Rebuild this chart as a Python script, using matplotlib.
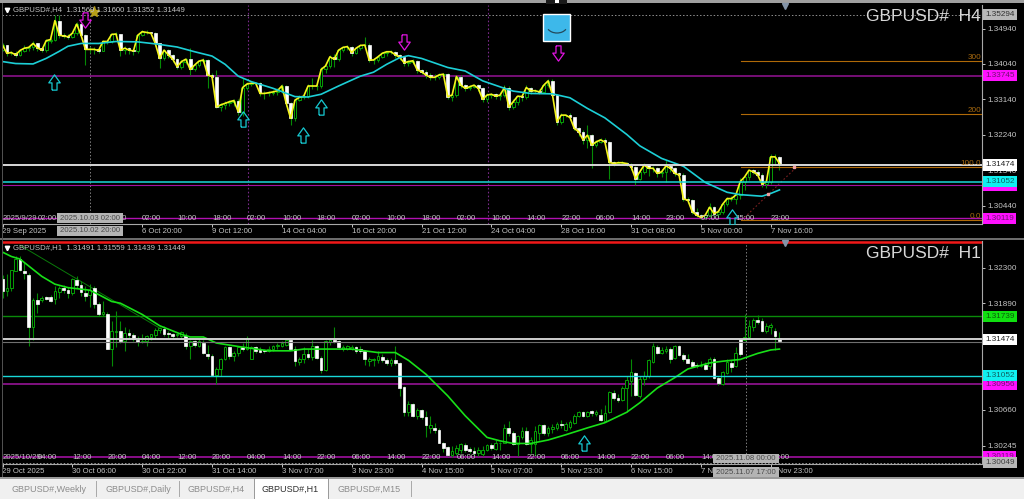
import matplotlib
matplotlib.use("Agg")
import matplotlib.pyplot as plt
from matplotlib.patches import Rectangle, Arc
from matplotlib.path import Path

plt.rcParams["font.family"] = ["Liberation Sans", "DejaVu Sans"]

# ---- H4 panel ----
h4_close = [
    1.3452, 1.3431, 1.3433, 1.3427, 1.3438, 1.3444, 1.3446, 1.3456, 1.3445, 1.3439,
    1.3463, 1.3466, 1.3514, 1.3477, 1.3475, 1.3473, 1.3482, 1.3505, 1.3477, 1.3441,
    1.3441, 1.3441, 1.3438, 1.3461, 1.3461, 1.3479, 1.3480, 1.3439, 1.3444, 1.3439,
    1.3437, 1.3477, 1.3486, 1.3484, 1.3482, 1.3456, 1.3418, 1.3439, 1.3427, 1.3416,
    1.3397, 1.3410, 1.3416, 1.3390, 1.3401, 1.3411, 1.3414, 1.3376, 1.3372, 1.3295,
    1.3300, 1.3304, 1.3308, 1.3311, 1.3283, 1.3344, 1.3353, 1.3355, 1.3355, 1.3329,
    1.3329, 1.3331, 1.3333, 1.3336, 1.3348, 1.3304, 1.3266, 1.3312, 1.3319, 1.3322,
    1.3348, 1.3348, 1.3348, 1.3390, 1.3399, 1.3422, 1.3416, 1.3439, 1.3446, 1.3448,
    1.3433, 1.3444, 1.3451, 1.3452, 1.3414, 1.3414, 1.3422, 1.3431, 1.3435, 1.3435,
    1.3427, 1.3421, 1.3407, 1.3410, 1.3412, 1.3389, 1.3384, 1.3376, 1.3370, 1.3370,
    1.3376, 1.3378, 1.3321, 1.3325, 1.3372, 1.3350, 1.3342, 1.3346, 1.3350, 1.3342,
    1.3314, 1.3325, 1.3327, 1.3322, 1.3325, 1.3344, 1.3295, 1.3308, 1.3322, 1.3321,
    1.3344, 1.3336, 1.3336, 1.3333, 1.3350, 1.3361, 1.3325, 1.3257, 1.3274, 1.3274,
    1.3268, 1.3240, 1.3232, 1.3211, 1.3223, 1.3198, 1.3206, 1.3211, 1.3206, 1.3154,
    1.3151, 1.3153, 1.3153, 1.3151, 1.3143, 1.3113, 1.3130, 1.3147, 1.3139, 1.3139,
    1.3126, 1.3130, 1.3145, 1.3139, 1.3126, 1.3122, 1.3061, 1.3058, 1.3029, 1.3020,
    1.3014, 1.3020, 1.3040, 1.3024, 1.3029, 1.3048, 1.3062, 1.3062, 1.3071, 1.3105,
    1.3117, 1.3134, 1.3130, 1.3122, 1.3099, 1.3105, 1.3168, 1.3168, 1.3151,
]
h4_open = [
    1.3440, 1.3452, 1.3431, 1.3433, 1.3427, 1.3438, 1.3444, 1.3446, 1.3456, 1.3445,
    1.3439, 1.3463, 1.3466, 1.3514, 1.3477, 1.3475, 1.3473, 1.3482, 1.3505, 1.3477,
    1.3441, 1.3441, 1.3441, 1.3438, 1.3461, 1.3461, 1.3479, 1.3480, 1.3439, 1.3444,
    1.3439, 1.3437, 1.3477, 1.3486, 1.3484, 1.3482, 1.3456, 1.3418, 1.3439, 1.3427,
    1.3416, 1.3397, 1.3410, 1.3416, 1.3390, 1.3401, 1.3411, 1.3414, 1.3376, 1.3372,
    1.3295, 1.3300, 1.3304, 1.3308, 1.3311, 1.3283, 1.3344, 1.3353, 1.3355, 1.3355,
    1.3329, 1.3329, 1.3331, 1.3333, 1.3336, 1.3348, 1.3304, 1.3266, 1.3312, 1.3319,
    1.3322, 1.3348, 1.3348, 1.3348, 1.3390, 1.3399, 1.3422, 1.3416, 1.3439, 1.3446,
    1.3448, 1.3433, 1.3444, 1.3451, 1.3452, 1.3414, 1.3414, 1.3422, 1.3431, 1.3435,
    1.3435, 1.3427, 1.3421, 1.3407, 1.3410, 1.3412, 1.3389, 1.3384, 1.3376, 1.3370,
    1.3370, 1.3376, 1.3378, 1.3321, 1.3325, 1.3372, 1.3350, 1.3342, 1.3346, 1.3350,
    1.3342, 1.3314, 1.3325, 1.3327, 1.3322, 1.3325, 1.3344, 1.3295, 1.3308, 1.3322,
    1.3321, 1.3344, 1.3336, 1.3336, 1.3333, 1.3350, 1.3361, 1.3325, 1.3257, 1.3274,
    1.3274, 1.3268, 1.3240, 1.3232, 1.3211, 1.3223, 1.3198, 1.3206, 1.3211, 1.3206,
    1.3154, 1.3151, 1.3153, 1.3153, 1.3151, 1.3143, 1.3113, 1.3130, 1.3147, 1.3139,
    1.3139, 1.3126, 1.3130, 1.3145, 1.3139, 1.3126, 1.3122, 1.3061, 1.3058, 1.3029,
    1.3020, 1.3014, 1.3020, 1.3040, 1.3024, 1.3029, 1.3048, 1.3062, 1.3062, 1.3071,
    1.3105, 1.3117, 1.3134, 1.3130, 1.3122, 1.3099, 1.3105, 1.3168, 1.3168,
]
h4_high = [
    1.3458, 1.3453, 1.3437, 1.3436, 1.3442, 1.3452, 1.3450, 1.3462, 1.3458, 1.3447,
    1.3468, 1.3470, 1.3528, 1.3528, 1.3482, 1.3479, 1.3486, 1.3510, 1.3512, 1.3479,
    1.3446, 1.3446, 1.3444, 1.3465, 1.3466, 1.3482, 1.3484, 1.3481, 1.3450, 1.3448,
    1.3441, 1.3480, 1.3490, 1.3490, 1.3486, 1.3484, 1.3457, 1.3443, 1.3442, 1.3428,
    1.3420, 1.3414, 1.3420, 1.3444, 1.3404, 1.3415, 1.3418, 1.3416, 1.3380, 1.3389,
    1.3305, 1.3310, 1.3312, 1.3316, 1.3314, 1.3369, 1.3357, 1.3359, 1.3358, 1.3358,
    1.3335, 1.3336, 1.3337, 1.3342, 1.3352, 1.3350, 1.3308, 1.3316, 1.3326, 1.3328,
    1.3352, 1.3368, 1.3352, 1.3395, 1.3404, 1.3426, 1.3428, 1.3442, 1.3450, 1.3452,
    1.3450, 1.3448, 1.3455, 1.3473, 1.3456, 1.3419, 1.3426, 1.3435, 1.3438, 1.3440,
    1.3438, 1.3430, 1.3425, 1.3414, 1.3417, 1.3414, 1.3392, 1.3389, 1.3380, 1.3378,
    1.3380, 1.3381, 1.3380, 1.3328, 1.3376, 1.3375, 1.3354, 1.3350, 1.3354, 1.3352,
    1.3345, 1.3329, 1.3330, 1.3330, 1.3332, 1.3350, 1.3348, 1.3314, 1.3326, 1.3326,
    1.3350, 1.3345, 1.3340, 1.3340, 1.3355, 1.3366, 1.3366, 1.3327, 1.3280, 1.3278,
    1.3280, 1.3270, 1.3245, 1.3236, 1.3249, 1.3226, 1.3212, 1.3216, 1.3215, 1.3208,
    1.3158, 1.3157, 1.3158, 1.3156, 1.3153, 1.3145, 1.3136, 1.3152, 1.3150, 1.3145,
    1.3143, 1.3136, 1.3160, 1.3150, 1.3142, 1.3130, 1.3128, 1.3066, 1.3062, 1.3038,
    1.3024, 1.3024, 1.3050, 1.3042, 1.3034, 1.3052, 1.3066, 1.3068, 1.3078, 1.3115,
    1.3122, 1.3138, 1.3138, 1.3134, 1.3128, 1.3112, 1.3176, 1.3176, 1.3170,
]
h4_low = [
    1.3436, 1.3425, 1.3426, 1.3422, 1.3424, 1.3434, 1.3437, 1.3440, 1.3436, 1.3434,
    1.3435, 1.3458, 1.3462, 1.3470, 1.3470, 1.3468, 1.3470, 1.3478, 1.3472, 1.3401,
    1.3432, 1.3430, 1.3432, 1.3436, 1.3455, 1.3457, 1.3475, 1.3425, 1.3430, 1.3428,
    1.3427, 1.3432, 1.3474, 1.3480, 1.3478, 1.3450, 1.3393, 1.3414, 1.3420, 1.3410,
    1.3390, 1.3392, 1.3405, 1.3376, 1.3385, 1.3396, 1.3408, 1.3342, 1.3355, 1.3292,
    1.3285, 1.3290, 1.3296, 1.3298, 1.3274, 1.3272, 1.3338, 1.3348, 1.3350, 1.3322,
    1.3316, 1.3322, 1.3326, 1.3326, 1.3330, 1.3296, 1.3249, 1.3258, 1.3310, 1.3314,
    1.3318, 1.3340, 1.3338, 1.3342, 1.3380, 1.3394, 1.3395, 1.3412, 1.3435, 1.3440,
    1.3425, 1.3430, 1.3440, 1.3446, 1.3408, 1.3405, 1.3410, 1.3418, 1.3424, 1.3428,
    1.3420, 1.3414, 1.3400, 1.3400, 1.3405, 1.3382, 1.3378, 1.3368, 1.3362, 1.3362,
    1.3366, 1.3372, 1.3316, 1.3310, 1.3320, 1.3342, 1.3335, 1.3338, 1.3342, 1.3334,
    1.3308, 1.3308, 1.3318, 1.3316, 1.3312, 1.3320, 1.3288, 1.3290, 1.3300, 1.3310,
    1.3316, 1.3328, 1.3330, 1.3328, 1.3330, 1.3345, 1.3320, 1.3250, 1.3252, 1.3268,
    1.3262, 1.3236, 1.3222, 1.3200, 1.3190, 1.3139, 1.3192, 1.3202, 1.3200, 1.3113,
    1.3146, 1.3148, 1.3148, 1.3146, 1.3135, 1.3096, 1.3108, 1.3125, 1.3120, 1.3130,
    1.3118, 1.3118, 1.3105, 1.3130, 1.3120, 1.3115, 1.3055, 1.3050, 1.3022, 1.3015,
    1.3010, 1.3012, 1.3016, 1.3018, 1.3015, 1.3022, 1.3044, 1.3055, 1.3048, 1.3062,
    1.3085, 1.3110, 1.3124, 1.3116, 1.3092, 1.3090, 1.3098, 1.3150, 1.3135,
]
h4_ma_bars = [0, 3, 7, 10, 13, 15, 18, 22, 26, 31, 35, 40, 44, 48, 51, 54, 57, 62, 67, 70, 73, 77, 82, 85,
              88, 91, 93, 96, 102, 106, 110, 115, 117, 121, 126, 130, 134, 138, 143, 146, 151, 156, 161,
              166, 169, 174, 176, 178]
h4_ma = [1.3410, 1.3405, 1.3404, 1.3418, 1.3436, 1.3449, 1.3456, 1.3456, 1.3461, 1.3460, 1.3455, 1.3447,
         1.3435, 1.3424, 1.3403, 1.3373, 1.3359, 1.3342, 1.3321, 1.3320, 1.3327, 1.3348, 1.3373, 1.3383,
         1.3403, 1.3420, 1.3425, 1.3418, 1.3395, 1.3386, 1.3361, 1.3342, 1.3335, 1.3329, 1.3328, 1.3318,
         1.3291, 1.3267, 1.3225, 1.3196, 1.3164, 1.3144, 1.3103, 1.3078, 1.3072, 1.3068, 1.3075, 1.3084]
h4_ticks = [1.34940, 1.34040, 1.33140, 1.32240, 1.31340, 1.30440]
h4_tick_bars = [0, 32, 48, 64, 80, 96, 112, 128, 144, 160, 176]
h4_tick_labels = ["29 Sep 2025", "6 Oct 20:00", "9 Oct 12:00", "14 Oct 04:00", "16 Oct 20:00", "21 Oct 12:00",
                  "24 Oct 04:00", "28 Oct 16:00", "31 Oct 08:00", "5 Nov 00:00", "7 Nov 16:00"]
h4_inner_bars = [8, 16, 24, 32, 40, 48, 56, 64, 72, 80, 88, 96, 104, 112, 120, 128, 136, 144, 152, 160, 168, 176]
h4_inner_labels = ["02:00", "10:00", "18:00", "02:00", "10:00", "18:00", "02:00", "10:00", "18:00", "02:00",
                   "10:00", "18:00", "02:00", "10:00", "14:00", "22:00", "06:00", "14:00", "23:00", "07:00",
                   "15:00", "23:00"]
h4_up_bars = [11.8, 55.1, 68.8, 73, 167.1]
h4_up_prices = [1.3358, 1.3264, 1.3223, 1.3294, 1.3015]
h4_down_bars = [18.9, 92, 127.3]
h4_down_prices = [1.3516, 1.3460, 1.3432]
fib_levels = [1.3411, 1.3276, 1.3142, 1.3007]
fib_labels = ["300", "200", "100.0", "0.0"]

# ---- H1 panel ----
h1_open = [
    1.3217, 1.3203, 1.3206, 1.3226, 1.3240, 1.3226, 1.3222, 1.3161, 1.3193, 1.3193,
    1.3196, 1.3196, 1.3194, 1.3202, 1.3206, 1.3204, 1.3201, 1.3216, 1.3210, 1.3201,
    1.3198, 1.3207, 1.3188, 1.3176, 1.3177, 1.3136, 1.3156, 1.3157, 1.3145, 1.3155,
    1.3152, 1.3147, 1.3144, 1.3145, 1.3150, 1.3152, 1.3158, 1.3159, 1.3155, 1.3153,
    1.3152, 1.3151, 1.3151, 1.3140, 1.3145, 1.3140, 1.3143, 1.3130, 1.3128, 1.3106,
    1.3113, 1.3125, 1.3138, 1.3128, 1.3131, 1.3138, 1.3136, 1.3125, 1.3138, 1.3135,
    1.3135, 1.3134, 1.3136, 1.3139, 1.3140, 1.3141, 1.3146, 1.3136, 1.3121, 1.3124,
    1.3130, 1.3127, 1.3140, 1.3126, 1.3112, 1.3144, 1.3147, 1.3145, 1.3136, 1.3136,
    1.3136, 1.3138, 1.3136, 1.3134, 1.3122, 1.3123, 1.3123, 1.3127, 1.3123, 1.3120,
    1.3123, 1.3120, 1.3092, 1.3063, 1.3072, 1.3059, 1.3066, 1.3057, 1.3045, 1.3045,
    1.3043, 1.3028, 1.3023, 1.3014, 1.3016, 1.3019, 1.3025, 1.3021, 1.3018, 1.3016,
    1.3015, 1.3020, 1.3025, 1.3021, 1.3027, 1.3028, 1.3045, 1.3039, 1.3026, 1.3034,
    1.3041, 1.3026, 1.3026, 1.3039, 1.3048, 1.3039, 1.3044, 1.3045, 1.3050, 1.3043,
    1.3046, 1.3051, 1.3059, 1.3063, 1.3059, 1.3064, 1.3061, 1.3060, 1.3053, 1.3063,
    1.3085, 1.3080, 1.3077, 1.3091, 1.3099, 1.3108, 1.3082, 1.3101, 1.3105, 1.3121,
    1.3138, 1.3131, 1.3134, 1.3136, 1.3126, 1.3140, 1.3129, 1.3125, 1.3121, 1.3118,
    1.3116, 1.3118, 1.3117, 1.3125, 1.3103, 1.3096, 1.3108, 1.3120, 1.3116, 1.3148,
    1.3147, 1.3150, 1.3162, 1.3170, 1.3168, 1.3157, 1.3162, 1.3157, 1.3149,
]
h1_high = [
    1.3222, 1.3223, 1.3227, 1.3243, 1.3244, 1.3237, 1.3224, 1.3195, 1.3201, 1.3197,
    1.3197, 1.3198, 1.3209, 1.3209, 1.3210, 1.3208, 1.3218, 1.3220, 1.3215, 1.3209,
    1.3211, 1.3209, 1.3190, 1.3192, 1.3179, 1.3168, 1.3180, 1.3168, 1.3161, 1.3159,
    1.3155, 1.3151, 1.3153, 1.3152, 1.3154, 1.3160, 1.3162, 1.3163, 1.3157, 1.3155,
    1.3155, 1.3157, 1.3155, 1.3147, 1.3147, 1.3148, 1.3147, 1.3141, 1.3130, 1.3115,
    1.3126, 1.3140, 1.3140, 1.3134, 1.3140, 1.3143, 1.3151, 1.3140, 1.3140, 1.3138,
    1.3136, 1.3140, 1.3141, 1.3143, 1.3145, 1.3148, 1.3147, 1.3140, 1.3127, 1.3138,
    1.3136, 1.3146, 1.3141, 1.3128, 1.3147, 1.3149, 1.3162, 1.3146, 1.3141, 1.3141,
    1.3141, 1.3140, 1.3139, 1.3135, 1.3127, 1.3126, 1.3134, 1.3130, 1.3126, 1.3126,
    1.3139, 1.3121, 1.3093, 1.3076, 1.3074, 1.3068, 1.3067, 1.3064, 1.3059, 1.3051,
    1.3045, 1.3029, 1.3024, 1.3024, 1.3025, 1.3027, 1.3027, 1.3023, 1.3023, 1.3023,
    1.3024, 1.3026, 1.3028, 1.3031, 1.3029, 1.3049, 1.3053, 1.3041, 1.3037, 1.3046,
    1.3046, 1.3034, 1.3047, 1.3049, 1.3049, 1.3047, 1.3049, 1.3052, 1.3054, 1.3052,
    1.3054, 1.3061, 1.3064, 1.3065, 1.3065, 1.3066, 1.3066, 1.3067, 1.3071, 1.3088,
    1.3089, 1.3084, 1.3093, 1.3105, 1.3125, 1.3109, 1.3105, 1.3111, 1.3124, 1.3143,
    1.3141, 1.3138, 1.3140, 1.3138, 1.3141, 1.3141, 1.3131, 1.3130, 1.3123, 1.3120,
    1.3122, 1.3121, 1.3127, 1.3127, 1.3105, 1.3111, 1.3124, 1.3123, 1.3138, 1.3149,
    1.3176, 1.3170, 1.3172, 1.3175, 1.3172, 1.3166, 1.3166, 1.3160, 1.3156,
]
h1_low = [
    1.3195, 1.3197, 1.3203, 1.3226, 1.3226, 1.3217, 1.3140, 1.3147, 1.3178, 1.3190,
    1.3193, 1.3190, 1.3188, 1.3195, 1.3201, 1.3195, 1.3198, 1.3207, 1.3197, 1.3192,
    1.3185, 1.3184, 1.3174, 1.3174, 1.3136, 1.3116, 1.3138, 1.3143, 1.3134, 1.3149,
    1.3145, 1.3139, 1.3143, 1.3140, 1.3146, 1.3149, 1.3155, 1.3151, 1.3149, 1.3149,
    1.3150, 1.3148, 1.3136, 1.3125, 1.3138, 1.3138, 1.3130, 1.3124, 1.3105, 1.3096,
    1.3105, 1.3123, 1.3125, 1.3122, 1.3128, 1.3134, 1.3135, 1.3124, 1.3132, 1.3131,
    1.3132, 1.3133, 1.3134, 1.3136, 1.3138, 1.3140, 1.3136, 1.3116, 1.3118, 1.3120,
    1.3124, 1.3123, 1.3124, 1.3108, 1.3111, 1.3141, 1.3143, 1.3136, 1.3134, 1.3135,
    1.3135, 1.3132, 1.3132, 1.3118, 1.3117, 1.3117, 1.3120, 1.3121, 1.3118, 1.3117,
    1.3118, 1.3082, 1.3059, 1.3059, 1.3057, 1.3055, 1.3055, 1.3034, 1.3039, 1.3039,
    1.3027, 1.3017, 1.3012, 1.3011, 1.3014, 1.3016, 1.3017, 1.3016, 1.3012, 1.3013,
    1.3013, 1.3018, 1.3020, 1.3019, 1.3020, 1.3027, 1.3036, 1.3025, 1.3012, 1.3032,
    1.3025, 1.3016, 1.3012, 1.3031, 1.3037, 1.3036, 1.3039, 1.3043, 1.3045, 1.3041,
    1.3044, 1.3050, 1.3057, 1.3057, 1.3057, 1.3059, 1.3059, 1.3053, 1.3052, 1.3062,
    1.3077, 1.3075, 1.3076, 1.3063, 1.3082, 1.3082, 1.3080, 1.3095, 1.3103, 1.3120,
    1.3130, 1.3130, 1.3132, 1.3120, 1.3124, 1.3128, 1.3122, 1.3120, 1.3116, 1.3114,
    1.3115, 1.3112, 1.3113, 1.3102, 1.3095, 1.3095, 1.3107, 1.3109, 1.3115, 1.3128,
    1.3145, 1.3149, 1.3157, 1.3165, 1.3156, 1.3155, 1.3153, 1.3135, 1.3144,
]
h1_close = [
    1.3203, 1.3206, 1.3227, 1.3240, 1.3227, 1.3224, 1.3161, 1.3193, 1.3188, 1.3195,
    1.3194, 1.3192, 1.3203, 1.3206, 1.3204, 1.3201, 1.3217, 1.3210, 1.3202, 1.3197,
    1.3204, 1.3188, 1.3176, 1.3179, 1.3136, 1.3157, 1.3157, 1.3145, 1.3155, 1.3152,
    1.3148, 1.3144, 1.3145, 1.3151, 1.3153, 1.3158, 1.3160, 1.3153, 1.3153, 1.3151,
    1.3154, 1.3156, 1.3140, 1.3145, 1.3141, 1.3145, 1.3131, 1.3128, 1.3106, 1.3113,
    1.3125, 1.3138, 1.3128, 1.3132, 1.3138, 1.3136, 1.3149, 1.3138, 1.3134, 1.3133,
    1.3134, 1.3136, 1.3140, 1.3141, 1.3143, 1.3146, 1.3136, 1.3122, 1.3125, 1.3130,
    1.3127, 1.3140, 1.3126, 1.3112, 1.3145, 1.3147, 1.3144, 1.3138, 1.3138, 1.3139,
    1.3138, 1.3134, 1.3134, 1.3124, 1.3125, 1.3125, 1.3128, 1.3123, 1.3120, 1.3123,
    1.3120, 1.3091, 1.3063, 1.3072, 1.3059, 1.3066, 1.3058, 1.3048, 1.3048, 1.3043,
    1.3028, 1.3022, 1.3014, 1.3018, 1.3022, 1.3026, 1.3020, 1.3018, 1.3016, 1.3020,
    1.3020, 1.3025, 1.3022, 1.3028, 1.3028, 1.3045, 1.3039, 1.3026, 1.3036, 1.3041,
    1.3026, 1.3031, 1.3041, 1.3048, 1.3039, 1.3045, 1.3046, 1.3050, 1.3048, 1.3049,
    1.3052, 1.3059, 1.3063, 1.3059, 1.3063, 1.3062, 1.3063, 1.3054, 1.3062, 1.3086,
    1.3080, 1.3077, 1.3091, 1.3100, 1.3109, 1.3083, 1.3102, 1.3105, 1.3123, 1.3140,
    1.3131, 1.3135, 1.3136, 1.3125, 1.3140, 1.3129, 1.3124, 1.3120, 1.3117, 1.3116,
    1.3118, 1.3113, 1.3125, 1.3103, 1.3097, 1.3109, 1.3121, 1.3115, 1.3131, 1.3130,
    1.3150, 1.3163, 1.3170, 1.3167, 1.3157, 1.3163, 1.3164, 1.3151, 1.3145,
]
h1_ma_bars = [0, 2, 4, 6, 9, 12, 15, 20, 22, 25, 27, 32, 36, 41, 43, 46, 49, 54, 61, 66, 69, 76, 80, 86, 90,
              93, 97, 102, 106, 111, 114, 117, 121, 125, 129, 134, 138, 143, 146, 150, 154, 157, 162, 165,
              169, 173, 176, 178]
h1_ma = [1.3248, 1.3243, 1.3240, 1.3232, 1.3220, 1.3211, 1.3207, 1.3204, 1.3199, 1.3191, 1.3189, 1.3176,
         1.3163, 1.3153, 1.3150, 1.3150, 1.3143, 1.3139, 1.3134, 1.3134, 1.3136, 1.3136, 1.3136, 1.3132,
         1.3132, 1.3123, 1.3107, 1.3082, 1.3059, 1.3034, 1.3030, 1.3027, 1.3027, 1.3031, 1.3037, 1.3045,
         1.3051, 1.3063, 1.3074, 1.3091, 1.3103, 1.3113, 1.3120, 1.3122, 1.3124, 1.3131, 1.3135, 1.3136]
h1_ticks = [1.32300, 1.31890, 1.31475, 1.31060, 1.30660, 1.30245]
h1_tick_bars = [0, 16, 32, 48, 64, 80, 96, 112, 128, 144, 160, 176]
h1_tick_labels = ["29 Oct 2025", "30 Oct 06:00", "30 Oct 22:00", "31 Oct 14:00", "3 Nov 07:00", "3 Nov 23:00",
                  "4 Nov 15:00", "5 Nov 07:00", "5 Nov 23:00", "6 Nov 15:00", "7 Nov 07:00", "7 Nov 23:00"]
h1_inner_bars = [8, 16, 24, 32, 40, 48, 56, 64, 72, 80, 88, 96, 104, 112, 120, 128, 136, 144, 152, 160, 168, 176]
h1_inner_labels = ["04:00", "12:00", "20:00", "04:00", "12:00", "20:00", "04:00", "14:00", "22:00", "06:00",
                   "14:00", "22:00", "06:00", "14:00", "22:00", "06:00", "14:00", "22:00", "06:00", "14:00",
                   "22:00", "06:00"]
h1_up_bars = [133.2]
h1_up_prices = [1.3027]

tabs = ["GBPUSD#,Weekly", "GBPUSD#,Daily", "GBPUSD#,H4", "GBPUSD#,H1", "GBPUSD#,M15"]
tab_left = [12, 105, 188, 262, 337]
tab_seps = [96, 179, 411]

W, H = 1024, 499
BAR_PX = 4.365
TEXT = "#c4c4c4"
FS = 5.6
PRICE_FS = 5.9

up_arrow = Path([(-.33, -1), (.33, -1), (.33, -.05), (.75, -.05), (0, 1), (-.75, -.05), (-.33, -.05), (-.33, -1)])
down_arrow = Path([(-.33, 1), (.33, 1), (.33, .05), (.75, .05), (0, -1), (-.75, .05), (-.33, .05), (-.33, 1)])


def make_axes(top_px, bottom_px, price_at_ref, ref_px, price_per_px):
    ax = fig.add_axes([2 / W, 1 - bottom_px / H, 980 / W, (bottom_px - top_px) / H], zorder=1)
    ax.set_facecolor("black")
    ax.set_xlim(-0.5 / BAR_PX, 979.5 / BAR_PX)
    ax.set_ylim(price_at_ref - (bottom_px - ref_px) * price_per_px, price_at_ref + (ref_px - top_px) * price_per_px)
    for side in ("top", "left"):
        ax.spines[side].set_visible(False)
    for side in ("bottom", "right"):
        ax.spines[side].set_color("#a8a8a8")
        ax.spines[side].set_linewidth(0.8)
    ax.yaxis.tick_right()
    ax.tick_params(axis="y", colors=TEXT, labelsize=PRICE_FS, length=2, width=0.7, pad=2)
    ax.tick_params(axis="x", colors=TEXT, labelsize=FS, length=2, width=0.7, pad=1)
    return ax


def draw_candles(ax, o, h, l, c):
    for i in range(len(c)):
        ax.vlines(i, l[i], h[i], color="#058a05", lw=0.8, zorder=2)
        if c[i] >= o[i]:
            ax.bar(i, c[i] - o[i], bottom=o[i], width=0.62, facecolor="black", edgecolor="#07a007", lw=0.7, zorder=3)
        else:
            ax.bar(i, o[i] - c[i], bottom=c[i], width=0.62, facecolor="white", edgecolor="white", lw=0.5, zorder=3)


def set_xlabels(ax, bars, labels):
    ax.set_xticks(bars)
    ax.set_xticklabels(labels, ha="left")


def flag(ax, price, txt, bg, fg="#303030", z=6):
    ax.text(1.0035, price, txt, transform=ax.get_yaxis_transform(), fontsize=PRICE_FS, color=fg, va="center", ha="left",
            bbox=dict(facecolor=bg, edgecolor="none", pad=1.5), clip_on=False, zorder=z)


def inner_labels(ax, bars, labels, price):
    for b, t in zip(bars, labels):
        ax.text(b, price, t, color=TEXT, fontsize=FS, ha="left", va="center", zorder=7)


fig = plt.figure(figsize=(W / 100, H / 100), dpi=100, facecolor="black")

# ---- H4 ----
ax1 = make_axes(5, 224, 1.3494, 28.5, 0.000254)
ax1.axvline(56.2, color="#7a2a8a", lw=0.8, ls=(0, (1.5, 2)), zorder=1)
ax1.axvline(111.3, color="#7a2a8a", lw=0.8, ls=(0, (1.5, 2)), zorder=1)
ax1.axvline(20.1, color="#808080", lw=0.7, ls=(0, (1.5, 2)), zorder=1)
ax1.axhline(1.35294, color="#909090", lw=0.7, ls=(0, (1.5, 2)), zorder=1)
draw_candles(ax1, h4_open, h4_high, h4_low, h4_close)
ax1.plot(range(len(h4_close)), h4_close, color="#f4f41a", lw=1.2, zorder=4)
ax1.plot(h4_ma_bars, h4_ma, color="#1ccfd6", lw=1.2, zorder=5)
ax1.axhline(1.33745, color="#8a128a", lw=1.2, zorder=1)
ax1.axhline(1.31474, color="#d8d8d8", lw=1.4, zorder=5)
ax1.axhline(1.31052, color="#19d8d8", lw=1.1, zorder=5)
ax1.axhline(1.30956, color="#a012a0", lw=0.8, zorder=1)
ax1.axhline(1.30119, color="#b010b0", lw=1.0, zorder=1)
for lvl, lab in zip(fib_levels, fib_labels):
    ax1.plot([169.2, 224.6], [lvl, lvl], color="#b06a08", lw=0.8, zorder=3)
    ax1.text(224.2, lvl + 0.0001, lab, color="#a86a10", fontsize=PRICE_FS, ha="right", va="bottom", zorder=6)
ax1.plot([170, 181.9], [1.3014, 1.3142], color="#7a2020", lw=0.8, ls=(0, (1.5, 2)), zorder=4)
ax1.plot([175.4, 181.3], [1.3074, 1.3142], ls="none", marker="s", ms=1.6, color="#f0a0a0", zorder=5)
ax1.plot(h4_up_bars, h4_up_prices, ls="none", marker=up_arrow, ms=11, mfc="none", mec="#16c8d0", mew=0.9, zorder=6)
ax1.plot(h4_down_bars, h4_down_prices, ls="none", marker=down_arrow, ms=11, mfc="none", mec="#e014e0", mew=0.9, zorder=6)
ax1.plot([21], [1.3537], marker="*", ms=8, color="#b8a018", ls="none", zorder=6)
set_xlabels(ax1, h4_tick_bars, h4_tick_labels)
ax1.set_yticks(h4_ticks)
ax1.set_yticklabels([f"{v:.5f}" for v in h4_ticks])
inner_labels(ax1, h4_inner_bars, h4_inner_labels, 1.3012)
ax1.text(0, 1.3012, "2025/9/29", color=TEXT, fontsize=FS, ha="left", va="center", zorder=7)
flag(ax1, 1.35294, "1.35294", "#b8b8b8")
flag(ax1, 1.33745, "1.33745", "#ff10ff", "#701070")
flag(ax1, 1.30956, "1.30956", "#ff10ff", "#701070", 6)
flag(ax1, 1.31474, "1.31474", "white", "#202020", 7)
flag(ax1, 1.31052, "1.31052", "#10f0f0", "#106060", 7)
flag(ax1, 1.30119, "1.30119", "#ff10ff", "#701070")

# ---- H1 ----
ax2 = make_axes(241, 464, 1.3230, 267.7, 0.0001155)
ax2.axvline(170.3, color="#808080", lw=0.7, ls=(0, (1.5, 2)), zorder=1)
ax2.axhline(1.30049, color="#909090", lw=0.7, ls=(0, (1.5, 2)), zorder=1)
ax2.plot([4, 36.4], [1.3256, 1.3159], color="#0a7a0a", lw=0.7, zorder=1)
draw_candles(ax2, h1_open, h1_high, h1_low, h1_close)
ax2.plot(h1_ma_bars, h1_ma, color="#18e018", lw=1.2, zorder=5)
ax2.axhline(1.31739, color="#0a8a0a", lw=1.0, zorder=1)
ax2.axhline(1.31474, color="#d0d0d0", lw=1.4, zorder=5)
ax2.axhline(1.31440, color="#707070", lw=0.8, zorder=5)
ax2.axhline(1.31052, color="#19d8d8", lw=1.0, zorder=5)
ax2.axhline(1.30956, color="#8a128a", lw=1.3, zorder=1)
ax2.axhline(1.30119, color="#a010a0", lw=1.2, zorder=1)
ax2.axhline(1.32600, color="#f01818", lw=1.8, zorder=6)
ax2.plot(h1_up_bars, h1_up_prices, ls="none", marker=up_arrow, ms=11, mfc="none", mec="#16c8d0", mew=0.9, zorder=6)
set_xlabels(ax2, h1_tick_bars, h1_tick_labels)
ax2.set_yticks(h1_ticks)
ax2.set_yticklabels([f"{v:.5f}" if v not in (1.31475, 1.31060) else "" for v in h1_ticks])
inner_labels(ax2, h1_inner_bars, h1_inner_labels, 1.3011)
ax2.text(0, 1.3011, "2025/10/29", color=TEXT, fontsize=FS, ha="left", va="center", zorder=7)
flag(ax2, 1.31739, "1.31739", "#10e010", "#0a5a0a")
flag(ax2, 1.31474, "1.31474", "white", "#202020", 7)
flag(ax2, 1.31052, "1.31052", "#10f0f0", "#106060", 7)
flag(ax2, 1.30956, "1.30956", "#ff10ff", "#701070")
flag(ax2, 1.30119, "1.30119", "#ff10ff", "#701070")
flag(ax2, 1.30049, "1.30049", "#b8b8b8", "#404040", 7)

# ---- window furniture, in pixels ----
ui = fig.add_axes([0, 0, 1, 1], zorder=5)
ui.set_xlim(0, W)
ui.set_ylim(H, 0)
ui.axis("off")
ui.patch.set_alpha(0)
ui.add_patch(Rectangle((0, 0), W, 3, fc="#a0a0a0", ec="none"))
ui.add_patch(Rectangle((0, 238), W, 2, fc="#6c6c6c", ec="none"))
ui.add_patch(Rectangle((1.5, 3), 1, 474, fc="#505050", ec="none"))
ui.add_patch(Rectangle((0, 478), W, 21, fc="#f0f0f0", ec="none"))
ui.add_patch(Rectangle((0, 477), W, 1.5, fc="#9a9a9a", ec="none"))
ui.add_patch(Rectangle((254, 478), 74, 21, fc="white", ec="#8a8a8a", lw=0.6))
for x in tab_seps:
    ui.plot([x, x], [481, 496], color="#a8a8a8", lw=0.7)
for name, x in zip(tabs, tab_left):
    ui.text(x, 489.5, name, fontsize=6.5, va="center", ha="left", color="#303030" if name.endswith("H1") else "#8c8c8c")

ui.text(981, 16.5, "GBPUSD#  H4", fontsize=12.5, color="#d8d8d8", ha="right", va="center")
ui.text(981, 254, "GBPUSD#  H1", fontsize=12.5, color="#d8d8d8", ha="right", va="center")
ui.text(13, 10, "GBPUSD#,H4  1.31569 1.31600 1.31352 1.31449", fontsize=FS, color=TEXT, va="center")
ui.text(13, 248, "GBPUSD#,H1  1.31491 1.31559 1.31439 1.31449", fontsize=FS, color=TEXT, va="center")
ui.plot([7, 7], [10, 248], ls="none", marker="v", ms=3.2, color="white")
ui.plot([785, 785], [6, 243], ls="none", marker="v", ms=5, color="#8494a8")

ui.add_patch(Rectangle((543, 13.5), 27, 27, fc="#3db8ea", ec="white", lw=1))
ui.add_patch(Arc((557, 26), 20, 14, theta1=20, theta2=160, color="#23495c", lw=0.9))
ui.add_patch(Rectangle((546, 0), 21, 3.5, fc="#1a1a1a", ec="none"))
ui.add_patch(Rectangle((555, 0), 4, 3, fc="white", ec="none"))

for x0, x1, y0, y1, txt in [(57, 123, 213, 223, "2025.10.03 02:00"), (57, 123, 226, 236, "2025.10.02 20:00"),
                            (713, 779, 454, 463, "2025.11.08 00:00"), (713, 779, 467, 477, "2025.11.07 17:00")]:
    ui.add_patch(Rectangle((x0, y0), x1 - x0, y1 - y0, fc="#b4b4b4", ec="none", zorder=8))
    ui.text((x0 + x1) / 2, (y0 + y1) / 2, txt, fontsize=FS, color="#4a4a4a", ha="center", va="center", zorder=9)

fig.savefig("out.png", dpi=100, facecolor="black")
